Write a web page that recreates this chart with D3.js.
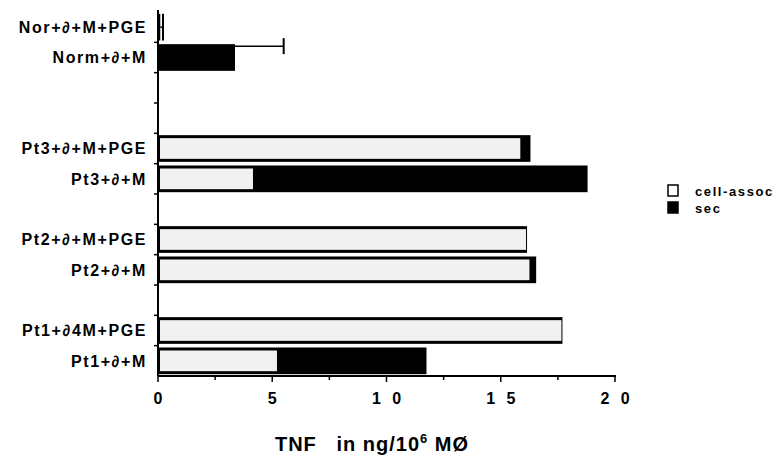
<!DOCTYPE html>
<html>
<head>
<meta charset="utf-8">
<script src="https://cdn.jsdelivr.net/npm/d3@7"></script>
<style>
  html, body { margin: 0; padding: 0; background: #fff; }
  svg { display: block; }
  text { font-family: "Liberation Sans", Arial, Helvetica, sans-serif; font-weight: bold; fill: #000; }
</style>
</head>
<body>
<svg id="chart" width="775" height="458"></svg>
<script>
// ---- data (top to bottom), blank slots are whitespace-only names ----
const categories = ["Nor+∂+M+PGE", "Norm+∂+M", "", " ", "Pt3+∂+M+PGE", "Pt3+∂+M", "  ",
                    "Pt2+∂+M+PGE", "Pt2+∂+M", "   ", "Pt1+∂4M+PGE", "Pt1+∂+M"];
const cellAssoc = [0, 0, null, null, 15.9, 4.2, null, 16.15, 16.3, null, 17.7, 5.25];
const secreted  = [0.1, 3.37, null, null, 0.4, 14.6, null, 0, 0.25, null, 0, 6.5];
const errorTop  = [0.22, 5.5, null, null, null, null, null, null, null, null, null, null];
const xTicks = [0, 5, 10, 15, 20];
const xTickLabels = ["0", "5", "1 0", "1 5", "2 0"];
const seriesNames = ["cell-assoc", "sec"];

(function () {
const svg = d3.select("#chart");
const mLeft = 158, mRight = 615, mTop = 12, mBottom = 376;

const x = d3.scaleLinear().domain([0, 20]).range([mLeft, mRight]);
const y = d3.scaleBand().domain(categories).range([mTop, mBottom]).paddingInner(0.12).paddingOuter(0.06);
const slot = d3.scaleBand().domain(categories).range([mTop, mBottom]);

const fillCell = "#f1f1f1";

const rows = categories.map((c, i) => ({ c, cell: cellAssoc[i], sec: secreted[i], err: errorTop[i], i }))
  .filter(d => d.cell !== null);

const g = svg.append("g");
rows.forEach(d => {
  const y0 = y(d.c), h = y.bandwidth();
  const total = d.cell + d.sec;
  g.append("rect")
    .attr("x", x(0)).attr("y", y0)
    .attr("width", x(total) - x(0)).attr("height", h)
    .attr("fill", "#000");
  if (d.cell > 0) {
    g.append("rect")
      .attr("x", x(0) + 2).attr("y", y0 + 3)
      .attr("width", Math.max(0, x(d.cell) - x(0) - 3)).attr("height", h - 6)
      .attr("fill", fillCell);
  }
  if (d.err !== null) {
    const isFirst = d.i === 0;
    const ey = isFirst ? y0 + h / 2 : y0 + 2;
    const cap = isFirst ? h / 2 : 8;
    g.append("line")
      .attr("x1", x(total)).attr("x2", x(d.err))
      .attr("y1", ey).attr("y2", ey)
      .attr("stroke", "#000").attr("stroke-width", 1.5);
    g.append("line")
      .attr("x1", x(d.err)).attr("x2", x(d.err))
      .attr("y1", ey - cap).attr("y2", ey + cap)
      .attr("stroke", "#000").attr("stroke-width", 2);
  }
});

// y axis line and ticks
svg.append("line")
  .attr("x1", mLeft).attr("x2", mLeft).attr("y1", mTop - 2).attr("y2", mBottom)
  .attr("stroke", "#000").attr("stroke-width", 2);
categories.forEach((c, i) => {
  if (i === 0) return;
  svg.append("line")
    .attr("x1", mLeft - 4).attr("x2", mLeft)
    .attr("y1", slot(c)).attr("y2", slot(c))
    .attr("stroke", "#000").attr("stroke-width", 1.5);
});
categories.forEach(c => {
  if (c.trim() === "") return;
  svg.append("text")
    .attr("x", 147).attr("y", y(c) + y.bandwidth() / 2)
    .attr("dy", "0.36em")
    .attr("text-anchor", "end")
    .attr("font-size", 16)
    .attr("letter-spacing", "1.6px")
    .text(c);
});

// x axis
svg.append("line")
  .attr("x1", mLeft).attr("x2", mRight + 1).attr("y1", mBottom).attr("y2", mBottom)
  .attr("stroke", "#000").attr("stroke-width", 2);
d3.range(0, 20.01, 2.5).forEach(v => {
  const major = xTicks.includes(v);
  svg.append("line")
    .attr("x1", x(v)).attr("x2", x(v))
    .attr("y1", mBottom).attr("y2", mBottom + (major ? 6 : 4))
    .attr("stroke", "#000").attr("stroke-width", 1.5);
});
xTicks.forEach((v, i) => {
  svg.append("text")
    .attr("x", x(v)).attr("y", 404)
    .attr("text-anchor", "middle")
    .attr("font-size", 16)
    .attr("letter-spacing", "3.5px")
    .attr("dx", "1.75px")
    .text(xTickLabels[i]);
});

// axis title
const title = svg.append("text")
  .attr("x", 372).attr("y", 451)
  .attr("text-anchor", "middle")
  .attr("font-size", 20)
  .attr("letter-spacing", "1px");
title.append("tspan").text("TNF\u00a0\u00a0 in ng/10");
title.append("tspan").attr("dy", -8).attr("font-size", 13).text("6");
title.append("tspan").attr("dy", 8).text(" MØ");

// legend
seriesNames.forEach((s, i) => {
  const ly = 185 + i * 17;
  svg.append("rect")
    .attr("x", 668).attr("y", ly)
    .attr("width", 10).attr("height", 11)
    .attr("fill", i === 0 ? "#fff" : "#000")
    .attr("stroke", "#000").attr("stroke-width", 1.5);
  svg.append("text")
    .attr("x", 695).attr("y", ly + 11)
    .attr("font-size", 13)
    .attr("letter-spacing", "1.6px")
    .text(s);
});
})();
</script>
</body>
</html>
